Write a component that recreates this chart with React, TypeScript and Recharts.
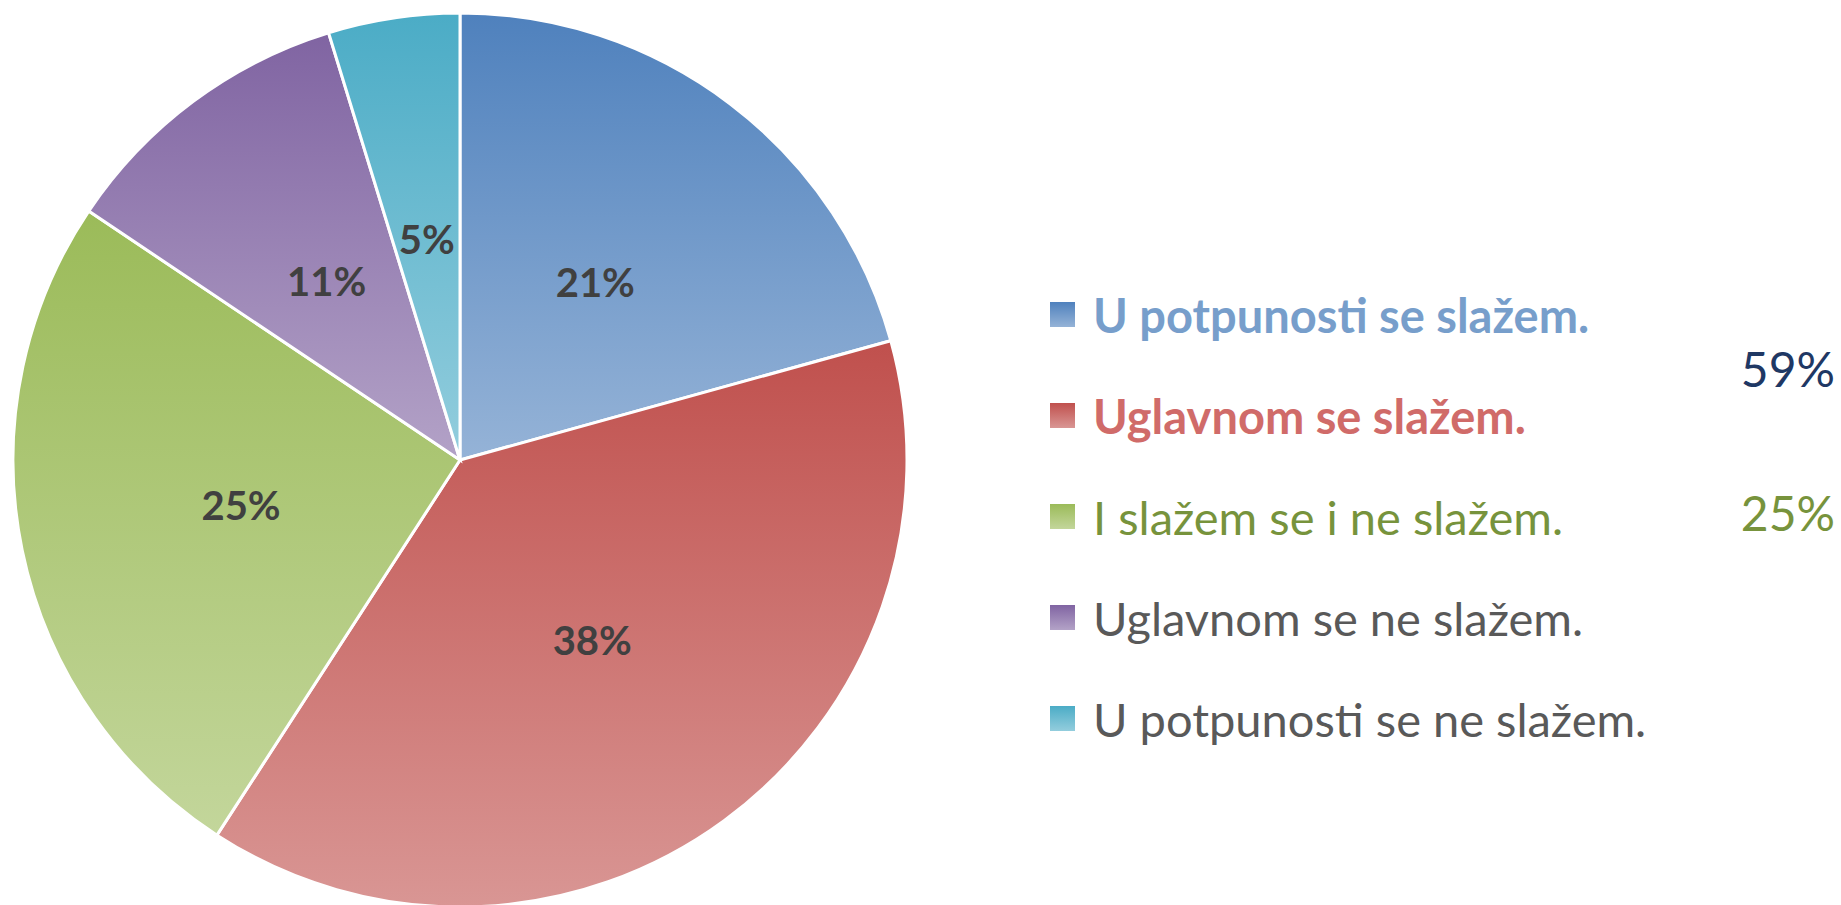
import React from 'react'
import { PieChart, Pie, Cell, Legend } from 'recharts'

const categories = [
  'U potpunosti se slažem.',
  'Uglavnom se slažem.',
  'I slažem se i ne slažem.',
  'Uglavnom se ne slažem.',
  'U potpunosti se ne slažem.',
]
const shares = [20.7, 38.45, 25.25, 10.85, 4.75]

const sideLabels = ['59%', '25%']
const sideColors = ['#1F3864', '#77933C']

const topColors = ['#4F81BD', '#C0504D', '#9BBB59', '#8064A2', '#4BACC6']
const bottomColors = ['#95B3D7', '#D99694', '#C3D69B', '#B3A2C7', '#93CDDD']
const legendTextColors = ['#779ECB', '#D06B69', '#77933C', '#595959', '#595959']
const legendBold = [true, true, false, false, false]

const data = categories.map((name, i) => ({ name, value: shares[i] }))

const FONT = 'Lato, "DejaVu Sans Condensed", sans-serif'
const RAD = Math.PI / 180

const renderLabel = (props: any) => {
  const { cx, cy, midAngle, outerRadius, value } = props
  const r = outerRadius * 0.5
  const x = cx + r * Math.cos(-midAngle * RAD)
  const y = cy + r * Math.sin(-midAngle * RAD)
  return (
    <text
      x={x}
      y={y}
      fill="#404040"
      textAnchor="middle"
      dominantBaseline="central"
      style={{ fontFamily: FONT, fontSize: 40, fontWeight: 700 }}
    >
      {`${Math.round(value)}%`}
    </text>
  )
}

const renderLegend = () => (
  <div style={{ fontFamily: FONT }}>
    {categories.map((name, i) => (
      <div key={name} style={{ display: 'flex', alignItems: 'center', height: 101 }}>
        <div
          style={{
            width: 25,
            height: 25,
            marginRight: 18,
            background: `linear-gradient(${topColors[i]}, ${bottomColors[i]})`,
          }}
        />
        <span
          style={{
            fontSize: 47,
            fontWeight: legendBold[i] ? 700 : 400,
            color: legendTextColors[i],
            whiteSpace: 'nowrap',
          }}
        >
          {name}
        </span>
      </div>
    ))}
  </div>
)

export default function App() {
  return (
    <div style={{ position: 'absolute', left: 0, top: 0, width: 1841, height: 905, background: '#fff' }}>
      <PieChart width={1841} height={905} margin={{ top: 0, right: 0, bottom: 0, left: 0 }}>
        <defs>
          {topColors.map((c, i) => (
            <linearGradient key={c} id={`grad-${i}`} x1="0" y1="0" x2="0" y2="1">
              <stop offset="0%" stopColor={c} />
              <stop offset="100%" stopColor={bottomColors[i]} />
            </linearGradient>
          ))}
        </defs>
        <Pie
          data={data}
          dataKey="value"
          nameKey="name"
          cx={460}
          cy={460}
          outerRadius={447}
          startAngle={90}
          endAngle={-270}
          stroke="#fff"
          strokeWidth={3}
          labelLine={false}
          label={renderLabel}
          isAnimationActive={false}
        >
          {data.map((entry, index) => (
            <Cell key={`cell-${index}`} fill={`url(#grad-${index})`} />
          ))}
        </Pie>
        <Legend
          content={renderLegend}
          wrapperStyle={{ position: 'absolute', left: 1050, top: 264, width: 700 }}
        />
      </PieChart>
      {sideLabels.map((t, i) => (
        <div
          key={t}
          style={{
            position: 'absolute',
            right: 6,
            top: i === 0 ? 340 : 484,
            fontFamily: FONT,
            fontSize: 48,
            color: sideColors[i],
          }}
        >
          {t}
        </div>
      ))}
    </div>
  )
}
